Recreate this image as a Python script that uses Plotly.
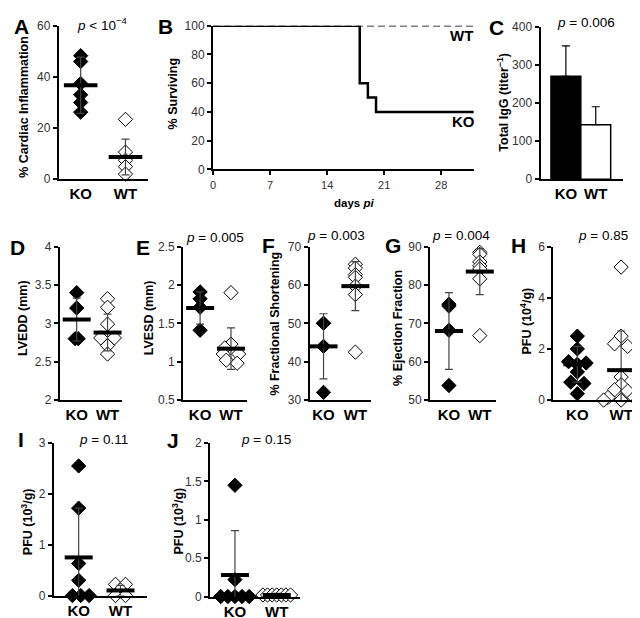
import plotly.graph_objects as go

W, H = 640, 618
FONT = "Liberation Sans, Arial, sans-serif"

# ---------------- DATA ----------------
groups = ["KO", "WT"]

# A: % cardiac inflammation
A_KO = [48.3, 46.0, 37.4, 33.0, 30.0, 26.2]
A_WT = [23.4, 10.6, 7.4, 4.9, 2.0]
A_mean = [36.7, 8.7]
A_sd = [11.0, 7.0]

# B: survival (Kaplan-Meier)
B_days_KO = [0, 18, 19, 20, 32]
B_surv_KO = [100, 60, 50, 40, 40]
B_days_WT = [0, 32]
B_surv_WT = [100, 100]
B_xticks = [0, 7, 14, 21, 28]

# C: total IgG
C_mean = [270, 143]
C_err = [80, 47]

# D: LVEDD
D_KO = [3.4, 3.2, 2.8, 2.8]
D_WT = [3.32, 3.21, 2.99, 2.81, 2.81, 2.71, 2.60]
D_mean = [3.05, 2.88]
D_sd = [0.28, 0.24]

# E: LVESD
E_KO = [1.91, 1.82, 1.71, 1.41]
E_WT = [1.90, 1.23, 1.18, 1.10, 1.10, 1.02, 0.98]
E_mean = [1.70, 1.17]
E_sd = [0.21, 0.27]

# F: % fractional shortening
F_KO = [50.0, 50.0, 44.0, 32.0]
F_WT = [65.4, 64.4, 62.7, 62.0, 59.7, 57.5, 42.5]
F_mean = [44.0, 59.7]
F_sd = [8.5, 6.4]

# G: % ejection fraction
G_KO = [75.0, 74.5, 68.2, 53.8]
G_WT = [88.5, 88.0, 86.0, 85.0, 84.2, 81.6, 66.8]
G_mean = [68.0, 83.5]
G_sd = [10.0, 6.0]

# H: PFU (10^4/g)
H_KO = [2.5, 2.0, 1.5, 1.45, 1.4, 1.1, 0.7, 0.65, 0.25]
H_WT = [5.2, 2.5, 2.2, 2.1, 0.9, 0.6, 0.4, 0.35, 0.1, 0.1, 0.0, 0.0, 0.0]
H_mean = [1.40, 1.17]
H_sd = [0.70, 1.53]

# I: PFU (10^3/g)
I_KO = [2.55, 1.72, 0.63, 0.30, 0.0, 0.0, 0.0]
I_WT = [0.22, 0.22, 0.11, 0.0, 0.0]
I_mean = [0.75, 0.10]
I_sd = [0.97, 0.10]

# J: PFU (10^3/g)
J_KO = [1.45, 0.22, 0.0, 0.0, 0.0, 0.0, 0.0]
J_WT = [0.02, 0.02, 0.02, 0.02, 0.02, 0.02, 0.02]
J_mean = [0.28, 0.02]
J_sd = [0.58, 0.02]

# ---------------- LAYOUT GEOMETRY (pixels) ----------------
# horizontal jitter (category units) to reproduce overlapping symbols
JIT = {
    "D": ([0, 0, -0.05, 0.05], [0, 0, 0, -0.22, 0.22, 0, 0]),
    "E": ([0, 0, 0, 0], [0, 0, -0.2, -0.25, 0.25, -0.15, 0.2]),
    "H": ([0, 0, -0.2, 0.2, 0, 0, -0.15, 0.15, 0],
          [0, 0, -0.15, 0.15, 0, 0, -0.15, 0.15, -0.3, 0.3, -0.4, 0, 0.4]),
    "I": ([0, 0, 0, 0, -0.15, 0.05, 0.25], [-0.12, 0.12, 0, -0.12, 0.12]),
    "J": ([0, 0, -0.34, -0.17, 0, 0.17, 0.34], [-0.33, -0.22, -0.11, 0, 0.11, 0.22, 0.33]),
}

fig = go.Figure()
layout = dict(
    width=W, height=H, margin=dict(l=0, r=0, t=0, b=0),
    paper_bgcolor="white", plot_bgcolor="white", showlegend=False,
    font=dict(family=FONT, color="black"),
)
annotations = []
counter = [0]


def px_x(p):
    return p / W


def px_y(p):
    return 1 - p / H


def axis_pair(x0, x1, top, bot, xrange, yrange, ytickvals, yticktext=None,
              xcat=True, xtickvals=None, xticktext=None):
    counter[0] += 1
    n = counter[0]
    xa = "xaxis" if n == 1 else f"xaxis{n}"
    ya = "yaxis" if n == 1 else f"yaxis{n}"
    xr = "x" if n == 1 else f"x{n}"
    yr = "y" if n == 1 else f"y{n}"
    common = dict(showline=True, linecolor="black", linewidth=2, showgrid=False,
                  zeroline=False, fixedrange=True)
    if xcat:
        layout[xa] = dict(domain=[px_x(x0), px_x(x1)], range=xrange, anchor=yr,
                          tickvals=[1, 2], ticktext=["<b>KO</b>", "<b>WT</b>"],
                          ticks="", tickfont=dict(size=15, color="black", family=FONT),
                          **common)
    else:
        layout[xa] = dict(domain=[px_x(x0), px_x(x1)], range=xrange, anchor=yr,
                          tickvals=xtickvals, ticktext=xticktext, ticks="outside",
                          ticklen=4, tickwidth=1.5, tickcolor="black",
                          tickfont=dict(size=11, color="#333", family=FONT), **common)
    layout[ya] = dict(domain=[px_y(bot), px_y(top)], range=yrange, anchor=xr,
                      tickvals=ytickvals,
                      ticktext=yticktext if yticktext else [str(v) for v in ytickvals],
                      ticks="outside", ticklen=4, tickwidth=1.5, tickcolor="black",
                      tickfont=dict(size=12, color="#333", family=FONT), **common)
    return xr, yr


def cat_range(x0, x1, ko, wt):
    u = 1.0 / (wt - ko)
    return [1 - (ko - x0) * u, 2 + (x1 - wt) * u]


def dot_panel(geo, ko_vals, wt_vals, means, sds, yrange, ytickvals, yticktext=None,
              jit=None, msize=11, barsize=20):
    x0, x1, ko, wt, top, bot = geo
    xr, yr = axis_pair(x0, x1, top, bot, cat_range(x0, x1, ko, wt), yrange,
                       ytickvals, yticktext)
    jk, jw = jit if jit else ([0] * len(ko_vals), [0] * len(wt_vals))
    fig.add_trace(go.Scatter(
        x=[1 + j for j in jk], y=ko_vals, xaxis=xr, yaxis=yr, mode="markers",
        cliponaxis=False,
        marker=dict(symbol="diamond", size=msize, color="black",
                    line=dict(color="black", width=1))))
    fig.add_trace(go.Scatter(
        x=[2 + j for j in jw], y=wt_vals, xaxis=xr, yaxis=yr, mode="markers",
        cliponaxis=False,
        marker=dict(symbol="diamond", size=msize, color="white",
                    line=dict(color="black", width=1))))
    fig.add_trace(go.Scatter(
        x=[1, 2], y=means, xaxis=xr, yaxis=yr, mode="markers", cliponaxis=True,
        marker=dict(size=1, color="rgba(0,0,0,0)"),
        error_y=dict(type="data", array=sds, color="#444", thickness=1.2, width=4)))
    fig.add_trace(go.Scatter(
        x=[1, 2], y=means, xaxis=xr, yaxis=yr, mode="markers", cliponaxis=False,
        marker=dict(symbol="line-ew", size=barsize,
                    line=dict(color="black", width=4))))


def ann(text, x, y, size, bold=False, angle=0):
    annotations.append(dict(
        text=f"<b>{text}</b>" if bold else text, x=px_x(x), y=px_y(y),
        xref="paper", yref="paper", xanchor="center", yanchor="middle",
        showarrow=False, textangle=angle,
        font=dict(size=size, family=FONT, color="black")))


# ---- Panel A ----
dot_panel((48, 138, 70, 115, 11, 168), A_KO, A_WT, A_mean, A_sd, [0, 60],
          [0, 20, 40, 60], msize=11, barsize=24)

# ---- Panel B ----
xr, yr = axis_pair(203, 465, 11, 158, [0, 32], [0, 100], [0, 20, 40, 60, 80, 100],
                   xcat=False, xtickvals=B_xticks, xticktext=[str(v) for v in B_xticks])
fig.add_trace(go.Scatter(x=B_days_WT, y=B_surv_WT, xaxis=xr, yaxis=yr, mode="lines",
                         cliponaxis=False, line=dict(color="black", width=1.6, dash="7px,4px")))
fig.add_trace(go.Scatter(x=B_days_KO, y=B_surv_KO, xaxis=xr, yaxis=yr, mode="lines",
                         cliponaxis=False, line=dict(color="black", width=2.5, shape="hv")))

# ---- Panel C ----
xr, yr = axis_pair(532, 615, 12, 168, cat_range(532, 615, 557.5, 587.5), [0, 400],
                   [0, 100, 200, 300, 400])
fig.add_trace(go.Bar(
    x=[1, 2], y=C_mean, xaxis=xr, yaxis=yr, width=1,
    marker=dict(color=["black", "white"], line=dict(color="black", width=1.5)),
    error_y=dict(type="data", array=C_err, arrayminus=[0, 0], symmetric=False,
                 color="black", thickness=1.2, width=4)))

# ---- Row 2 ----
dot_panel((49, 112, 66, 97, 237, 394), D_KO, D_WT, D_mean, D_sd, [2, 4],
          [2, 2.5, 3, 3.5, 4], ["2", "2.5", "3", "3.5", "4"], jit=JIT["D"])
dot_panel((173, 237, 190, 221, 237, 394), E_KO, E_WT, E_mean, E_sd, [0.5, 2.5],
          [0.5, 1, 1.5, 2, 2.5], ["0.5", "1", "1.5", "2", "2.5"], jit=JIT["E"])
dot_panel((300, 362, 314, 346, 237, 394), F_KO, F_WT, F_mean, F_sd, [30, 70],
          [30, 40, 50, 60, 70])
dot_panel((421, 487, 440, 471, 237, 394), G_KO, G_WT, G_mean, G_sd, [50, 90],
          [50, 60, 70, 80, 90])
dot_panel((545, 636, 569, 613, 237, 394), H_KO, H_WT, H_mean, H_sd, [0, 6],
          [0, 2, 4, 6], jit=JIT["H"])

# ---- Row 3 ----
dot_panel((43, 137, 68, 110, 438, 594), I_KO, I_WT, I_mean, I_sd, [0, 3],
          [0, 1, 2, 3], jit=JIT["I"])
dot_panel((200, 290, 225, 267, 438, 595), J_KO, J_WT, J_mean, J_sd, [0, 2],
          [0, 0.5, 1, 1.5, 2], ["0", "0.5", "1", "1.5", "2"], jit=JIT["J"])

# ---------------- TEXT ----------------
# panel letters
for letter, x, y in [("A", 11, 12), ("B", 155, 12), ("C", 488, 13),
                     ("D", 7, 238), ("E", 133, 238), ("F", 259, 236),
                     ("G", 384, 236), ("H", 510, 236), ("I", 10, 434), ("J", 163, 435)]:
    ann(letter, x, y, 21, bold=True)

# p-values
for txt, x, y in [("<i>p</i> < 10<sup>−4</sup>", 91, 9), ("<i>p</i> = 0.006", 578, 8),
                  ("<i>p</i> = 0.005", 205, 228), ("<i>p</i> = 0.003", 327, 226),
                  ("<i>p</i> = 0.004", 452, 226), ("<i>p</i> = 0.85", 595, 226),
                  ("<i>p</i> = 0.11", 93, 434), ("<i>p</i> = 0.15", 256, 434)]:
    ann(txt, x, y, 13.5)

# y-axis titles
for txt, x, y in [("% Cardiac Inflammation", 13, 94), ("% Surviving", 163, 80),
                  ("Total IgG (titer<sup>−1</sup>)", 494, 89),
                  ("LVEDD (mm)", 12, 310), ("LVESD (mm)", 139, 310),
                  ("% Fractional Shortening", 265, 316), ("% Ejection Fraction", 389, 320),
                  ("PFU (10<sup>4</sup>/g)", 517, 313),
                  ("PFU (10<sup>3</sup>/g)", 16, 518), ("PFU (10<sup>3</sup>/g)", 168, 518)]:
    ann(txt, x, y, 12.5, bold=True, angle=-90)

# panel B labels
ann("days <i>pi</i>", 345, 192, 11.5, bold=True)
ann("WT", 453, 21, 15, bold=True)
ann("KO", 455, 109, 15, bold=True)

layout["annotations"] = annotations
fig.update_layout(**layout)
fig.write_html("out.html")
